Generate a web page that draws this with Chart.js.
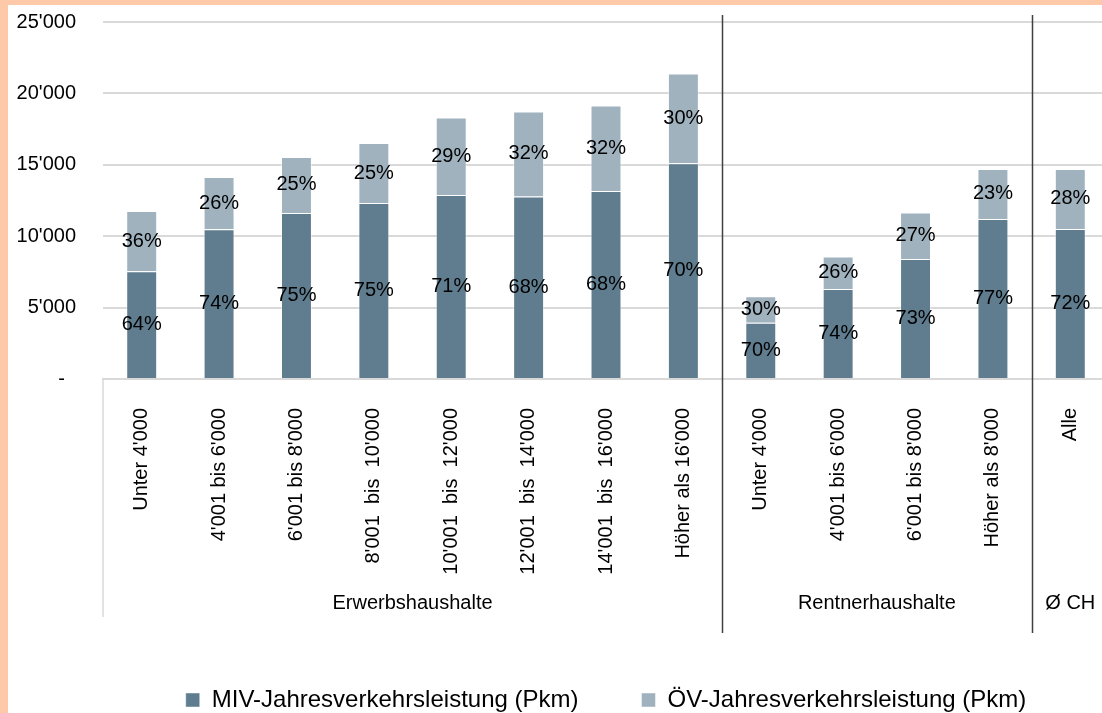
<!DOCTYPE html>
<html>
<head>
<meta charset="utf-8">
<script src="https://cdn.jsdelivr.net/npm/chart.js@4.4.1/dist/chart.umd.min.js"></script>
<style>
  html, body { margin: 0; padding: 0; overflow: hidden; background: #fdc9a8; width: 1102px; height: 713px; }
  #wrap { position: absolute; left: 8px; top: 5px; width: 1113px; height: 717px; background: #fff; }
</style>
</head>
<body>
<div id="wrap"><canvas id="chart"></canvas></div>
<script>
// Kategorien (Haushaltseinkommen in CHF)
const categories = [
  "Unter 4'000", "4'001 bis 6'000", "6'001 bis 8'000", "8'001  bis  10'000",
  "10'001  bis  12'000", "12'001  bis  14'000", "14'001  bis  16'000", "Höher als 16'000",
  "Unter 4'000", "4'001 bis 6'000", "6'001 bis 8'000", "Höher als 8'000",
  "Alle"
];
// Gruppen unter der Achse: [Text, erster Index, Index nach dem letzten]
const groups = [
  ["Erwerbshaushalte", 0, 8],
  ["Rentnerhaushalte", 8, 12],
  ["Ø CH", 12, 13]
];

// Jahresverkehrsleistung in Pkm
const mivValues = [7550, 10490, 11630, 12330, 12890, 12780, 13170, 15100, 3940, 6310, 8410, 11210, 10510];
const oevValues = [4220, 3660, 3920, 4190, 5430, 5960, 5990, 6300, 1860, 2270, 3250, 3500, 4200];

// Anteile, wie sie im Diagramm beschriftet sind
const mivPct = [64, 74, 75, 75, 71, 68, 68, 70, 70, 74, 73, 77, 72];
const oevPct = [36, 26, 25, 25, 29, 32, 32, 30, 30, 26, 27, 23, 28];

const yTicks = [0, 5000, 10000, 15000, 20000, 25000];

const FONT = "'Liberation Sans', Arial, sans-serif";
Chart.defaults.font.family = FONT;
Chart.defaults.color = '#000';

function fmtThousands(v) {
  if (v === 0) return '-  ';
  return String(v).replace(/\B(?=(\d{3})+(?!\d))/g, "'");
}

// Prozent-Beschriftung in der Mitte jedes Segments
const pctLabels = {
  id: 'pctLabels',
  afterDatasetsDraw(chart) {
    const ctx = chart.ctx;
    const pcts = [mivPct, oevPct];
    ctx.save();
    ctx.font = '20px ' + FONT;
    ctx.fillStyle = '#000';
    ctx.textAlign = 'center';
    ctx.textBaseline = 'middle';
    chart.data.datasets.forEach((ds, di) => {
      chart.getDatasetMeta(di).data.forEach((bar, i) => {
        const p = bar.getProps(['x', 'y', 'base'], true);
        ctx.fillText(pcts[di][i] + '%', p.x, (p.y + p.base) / 2);
      });
    });
    ctx.restore();
  }
};

// Trennlinien und Gruppentitel
const groupAxis = {
  id: 'groupAxis',
  afterDraw(chart) {
    const ctx = chart.ctx;
    const xs = chart.scales.x;
    const area = chart.chartArea;
    const step = xs.getPixelForValue(1) - xs.getPixelForValue(0);
    const edge = i => xs.getPixelForValue(i) - step / 2;
    ctx.save();
    // linke Kante der Kategorienachse
    ctx.strokeStyle = '#d9d9d9';
    ctx.lineWidth = 1.5;
    ctx.beginPath();
    ctx.moveTo(area.left, area.bottom);
    ctx.lineTo(area.left, 612);
    ctx.stroke();
    // dunkle Trenner
    ctx.strokeStyle = '#404040';
    ctx.lineWidth = 1.5;
    [8, 12].forEach(i => {
      const x = Math.round(edge(i)) + 0.5;
      ctx.beginPath();
      ctx.moveTo(x, 10);
      ctx.lineTo(x, 628);
      ctx.stroke();
    });
    ctx.font = '20px ' + FONT;
    ctx.fillStyle = '#000';
    ctx.textAlign = 'center';
    ctx.textBaseline = 'middle';
    groups.forEach(g => {
      ctx.fillText(g[0], (edge(g[1]) + edge(g[2])) / 2, 598);
    });
    ctx.restore();
  }
};

const ctx = document.getElementById('chart').getContext('2d');
const chart = new Chart(ctx, {
  type: 'bar',
  data: {
    labels: categories,
    datasets: [
      {
        label: 'MIV-Jahresverkehrsleistung (Pkm)',
        data: mivValues,
        backgroundColor: '#5f7d8f',
        borderColor: 'rgba(255,255,255,0.45)',
        borderWidth: 1,
        barPercentage: 0.4,
        categoryPercentage: 1
      },
      {
        label: 'ÖV-Jahresverkehrsleistung (Pkm)',
        data: oevValues,
        backgroundColor: '#a0b2be',
        borderColor: 'rgba(255,255,255,0.45)',
        borderWidth: 1,
        barPercentage: 0.4,
        categoryPercentage: 1
      }
    ]
  },
  options: {
    responsive: true,
    maintainAspectRatio: false,
    animation: false,
    layout: { padding: { left: 0, right: 12, top: 17, bottom: 0 } },
    plugins: {
      tooltip: { enabled: false },
      legend: {
        position: 'bottom',
        fullSize: false,
        labels: {
          font: { size: 24 },
          color: '#000',
          boxWidth: 14,
          boxHeight: 14,
          padding: 63
        }
      }
    },
    scales: {
      x: {
        stacked: true,
        grid: { display: true, color: 'transparent', drawTicks: true, tickLength: 29 },
        border: { display: true, color: '#d9d9d9', width: 2 },
        ticks: {
          autoSkip: false,
          minRotation: 90,
          maxRotation: 90,
          padding: 0,
          font: { size: 20 },
          color: '#000'
        },
        afterFit(scale) { scale.height = 246; }
      },
      y: {
        stacked: true,
        min: 0,
        max: 25000,
        afterBuildTicks(scale) { scale.ticks = yTicks.map(v => ({ value: v })); },
        grid: { color: '#d9d9d9', lineWidth: 2, drawTicks: true, tickLength: 27, tickColor: 'transparent' },
        border: { display: false },
        ticks: {
          padding: 0,
          font: { size: 20 },
          color: '#000',
          callback: v => fmtThousands(v)
        },
        afterFit(scale) { scale.width = 95; }
      }
    }
  },
  plugins: [pctLabels, groupAxis]
});
</script>
</body>
</html>
